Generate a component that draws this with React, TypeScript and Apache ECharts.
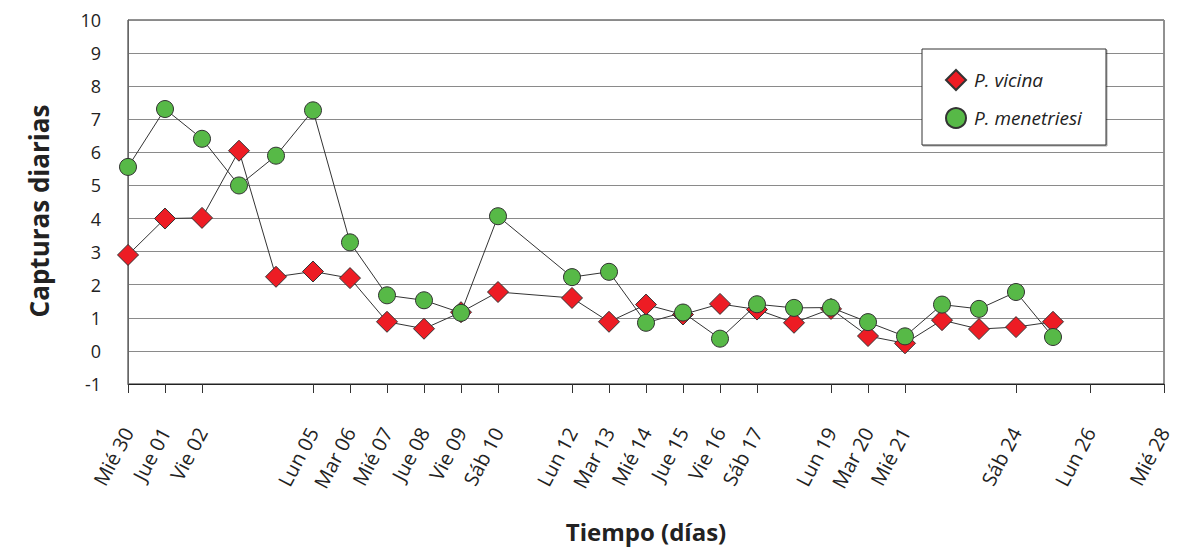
import React, { useEffect, useRef } from "react";
import * as echarts from "echarts";

const days = [0, 1, 2, 3, 4, 5, 6, 7, 8, 9, 10, 12, 13, 14, 15, 16, 17, 18, 19, 20, 21, 22, 23, 24, 25];
const vicina = [2.9, 4.0, 4.02, 6.05, 2.24, 2.4, 2.2, 0.88, 0.67, 1.17, 1.78, 1.6, 0.88, 1.4, 1.1, 1.42, 1.25, 0.85, 1.27, 0.45, 0.23, 0.93, 0.66, 0.72, 0.88];
const menetriesi = [5.56, 7.31, 6.41, 5.0, 5.9, 7.27, 3.28, 1.68, 1.53, 1.15, 4.07, 2.23, 2.39, 0.85, 1.16, 0.37, 1.41, 1.3, 1.31, 0.87, 0.44, 1.4, 1.27, 1.78, 0.42];
const tickDays = [0, 1, 2, 5, 6, 7, 8, 9, 10, 12, 13, 14, 15, 16, 17, 19, 20, 21, 24, 26, 28];
const tickLabels = ["Mié 30", "Jue 01", "Vie 02", "Lun 05", "Mar 06", "Mié 07", "Jue 08", "Vie 09", "Sáb 10", "Lun 12", "Mar 13", "Mié 14", "Jue 15", "Vie 16", "Sáb 17", "Lun 19", "Mar 20", "Mié 21", "Sáb 24", "Lun 26", "Mié 28"];
const seriesNames = ["P. vicina", "P. menetriesi"];

const FONT = "'Open Sans', 'Noto Sans', sans-serif";

export default function App() {
  const ref = useRef<HTMLDivElement>(null);
  useEffect(() => {
    if (!ref.current) return;
    const chart = echarts.init(ref.current, undefined, { renderer: "svg" });
    const labelFor = (v: number) => {
      const i = tickDays.indexOf(Math.round(v));
      return i >= 0 ? tickLabels[i] : "";
    };
    chart.setOption({
      animation: false,
      backgroundColor: "#ffffff",
      textStyle: { fontFamily: FONT },
      grid: {
        left: 128,
        right: 22,
        top: 20,
        bottom: 162,
        show: true,
        borderColor: "#222",
        borderWidth: 1,
        backgroundColor: "transparent",
      },
      legend: {
        orient: "vertical",
        left: 945,
        top: 69,
        padding: 0,
        itemWidth: 20,
        itemHeight: 20,
        itemGap: 16,
        z: 10,
        textStyle: { fontFamily: FONT, fontStyle: "italic", fontSize: 19, color: "#222", padding: [0, 0, 0, 3] },
        data: [
          { name: seriesNames[0], icon: "diamond" },
          { name: seriesNames[1], icon: "circle" },
        ],
      },
      graphic: [
        {
          type: "rect",
          z: 5,
          shape: { x: 922, y: 49, width: 184, height: 96 },
          style: {
            fill: "#fff",
            stroke: "#333",
            lineWidth: 1,
            shadowColor: "rgba(0,0,0,0.35)",
            shadowOffsetX: 1,
            shadowOffsetY: 1,
            shadowBlur: 1,
          },
        },
      ],
      xAxis: {
        type: "value",
        min: 0,
        max: 28,
        interval: 1,
        name: "Tiempo (días)",
        nameLocation: "middle",
        nameGap: 135,
        nameMoveOverlap: false,
        nameTextStyle: { fontFamily: FONT, fontWeight: "bold", fontSize: 24, color: "#222" },
        axisLine: { show: true, onZero: false, lineStyle: { color: "#222", width: 1 } },
        axisTick: { show: true, customValues: tickDays, length: 9, lineStyle: { color: "#333" } },
        axisLabel: {
          customValues: tickDays,
          formatter: (v: number) => labelFor(v),
          rotate: 62,
          margin: 45,
          fontSize: 20,
          color: "#222",
          fontFamily: FONT,
          hideOverlap: false,
        },
        splitLine: { show: false },
      },
      yAxis: {
        type: "value",
        min: -1,
        max: 10,
        interval: 1,
        name: "Capturas diarias",
        nameLocation: "middle",
        nameGap: 76,
        nameMoveOverlap: false,
        nameTextStyle: { fontFamily: FONT, fontWeight: "bold", fontSize: 26, color: "#222", padding: [0, 18, 0, 0] },
        axisLine: { show: true, onZero: false, lineStyle: { color: "#666", width: 1 } },
        axisTick: { show: false },
        axisLabel: { fontSize: 18, color: "#222", margin: 27, fontFamily: FONT },
        splitLine: { show: true, lineStyle: { color: "#8a8a8a", width: 1 } },
      },
      series: [
        {
          name: seriesNames[0],
          type: "line",
          data: days.map((d, i) => [d, vicina[i]]),
          symbol: "diamond",
          symbolSize: 21,
          showAllSymbol: true,
          lineStyle: { color: "#333", width: 1 },
          itemStyle: { color: "#ED1C24", borderColor: "#333", borderWidth: 1 },
          z: 2,
        },
        {
          name: seriesNames[1],
          type: "line",
          data: days.map((d, i) => [d, menetriesi[i]]),
          symbol: "circle",
          symbolSize: 17,
          showAllSymbol: true,
          lineStyle: { color: "#333", width: 1 },
          itemStyle: { color: "#57B947", borderColor: "#333", borderWidth: 1 },
          z: 3,
        },
      ],
    });
    return () => chart.dispose();
  }, []);
  return <div ref={ref} style={{ width: 1186, height: 548, position: "absolute", left: 0, top: 0 }} />;
}
